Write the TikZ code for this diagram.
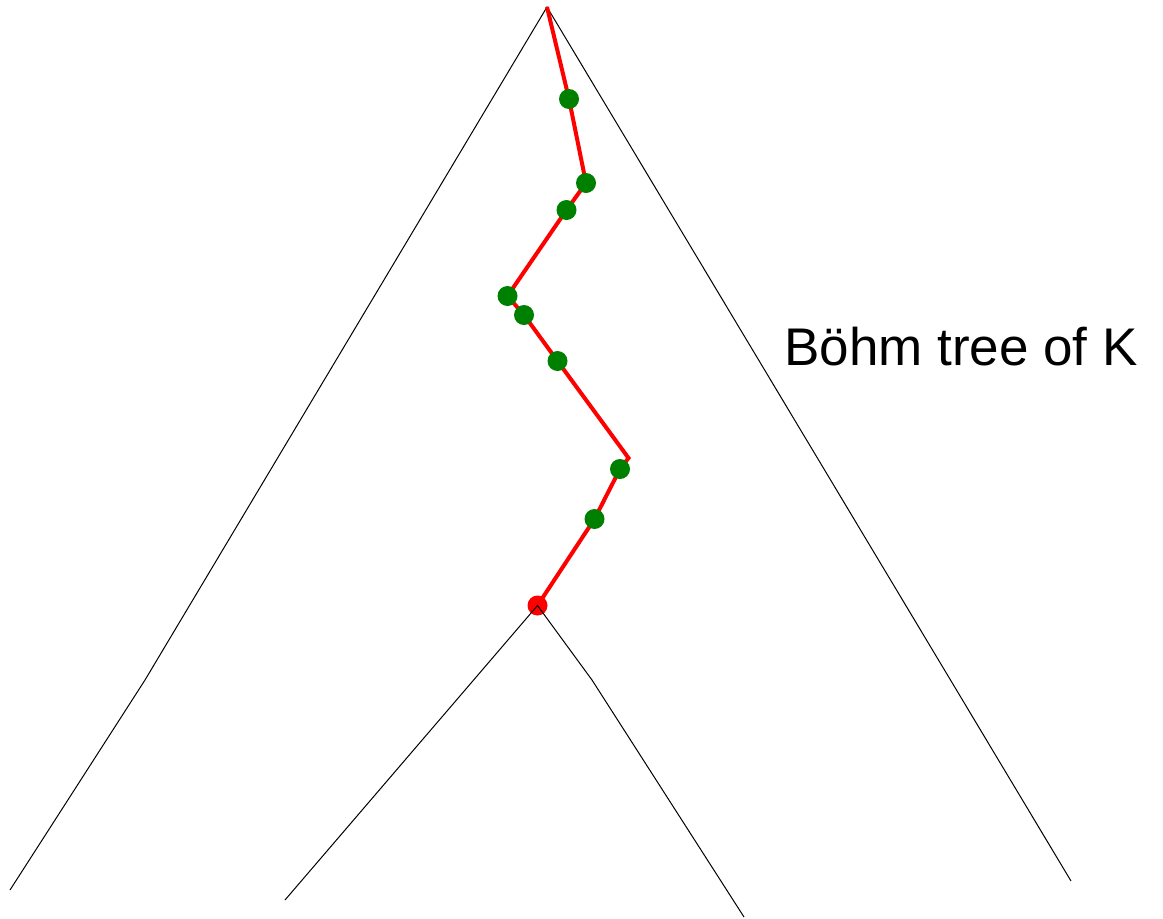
\documentclass[tikz,border=0pt]{standalone}
\usepackage{fontspec}
\setmainfont{Liberation Sans}
\definecolor{dotgreen}{RGB}{0,128,0}
\begin{document}
\begin{tikzpicture}[x=1pt,y=-1pt,
  edge/.style={black,line width=1pt},
  pathline/.style={red,line width=4pt,line join=miter},
  gdot/.style={circle,fill=dotgreen,inner sep=0pt,minimum size=20pt},
  rdot/.style={circle,fill=red,inner sep=0pt,minimum size=20pt},
  label/.style={font=\fontsize{53}{64}\selectfont,inner sep=0pt}]
  \useasboundingbox (0,0) rectangle (1163,919);

  % outline of the whole tree
  \coordinate (root) at (547,7);
  \coordinate (lbend) at (145,680);
  \coordinate (lend) at (10,890);
  \coordinate (rend) at (1071,881);
  \draw[edge] (rend) -- (root) -- (lbend) -- (lend);

  % path points
  \coordinate (c1) at (569,99);
  \coordinate (c2) at (586,183);
  \coordinate (c3) at (566.5,210);
  \coordinate (c4) at (507.5,296);
  \coordinate (c5) at (524,315);
  \coordinate (c6) at (557.5,361);
  \coordinate (turn) at (628.5,458);
  \coordinate (c7) at (620,469);
  \coordinate (c8) at (594.5,519);
  \coordinate (c9) at (537.5,605.5);

  % the red branch
  \draw[pathline] (root) -- (c1) -- (c2) -- (c3) -- (c4) -- (c5) -- (c6)
    -- (turn) -- (c7) -- (c8) -- (c9);

  % nodes along the branch
  \node[gdot] (n1) at (c1) {};
  \node[gdot] (n2) at (c2) {};
  \node[gdot] (n3) at (c3) {};
  \node[gdot] (n4) at (c4) {};
  \node[gdot] (n5) at (c5) {};
  \node[gdot] (n6) at (c6) {};
  \node[gdot] (n7) at (c7) {};
  \node[gdot] (n8) at (c8) {};
  \node[rdot] (sub) at (c9) {};

  % subtree below the red node
  \coordinate (sl) at (285,900);
  \coordinate (srbend) at (592,680);
  \coordinate (sr) at (744,917);
  \draw[edge] (sl) -- (sub.center) -- (srbend) -- (sr);

  \node[label,anchor=base west] (title) at (784,365) {Böhm tree of K};
\end{tikzpicture}
\end{document}
